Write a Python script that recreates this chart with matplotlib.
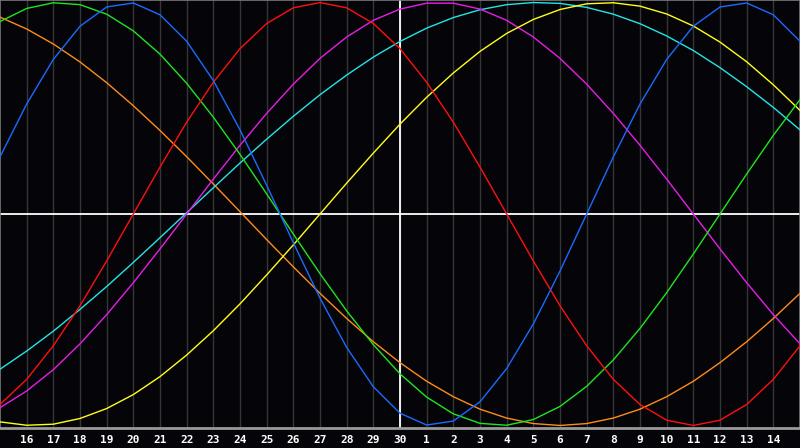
import numpy as np
import matplotlib
matplotlib.use("Agg")
from matplotlib import pyplot as plt

# Day labels along the bottom (tick at every day, 15 at both edges unlabelled)
day_labels = [16, 17, 18, 19, 20, 21, 22, 23, 24, 25, 26, 27, 28, 29, 30,
              1, 2, 3, 4, 5, 6, 7, 8, 9, 10, 11, 12, 13, 14]

# Curve values, one per day from the left edge (day 15) to the right edge
blue = [0.270, 0.520, 0.731, 0.888, 0.979, 0.998, 0.942, 0.817, 0.631, 0.398, 0.136,
        -0.136, -0.398, -0.631, -0.817, -0.942, -0.998, -0.979, -0.888, -0.731, -0.520,
        -0.270, 0.000, 0.270, 0.520, 0.731, 0.888, 0.979, 0.998, 0.942, 0.817]
red = [-0.901, -0.782, -0.623, -0.434, -0.222, 0.000, 0.222, 0.434, 0.623, 0.782, 0.901,
       0.975, 1.000, 0.975, 0.901, 0.782, 0.623, 0.434, 0.222, 0.000, -0.222,
       -0.434, -0.623, -0.782, -0.901, -0.975, -1.000, -0.975, -0.901, -0.782, -0.623]
green = [0.910, 0.972, 0.999, 0.990, 0.945, 0.866, 0.756, 0.618, 0.458, 0.282, 0.095,
         -0.095, -0.282, -0.458, -0.618, -0.756, -0.866, -0.945, -0.990, -0.999, -0.972,
         -0.910, -0.815, -0.690, -0.541, -0.372, -0.189, 0.000, 0.189, 0.372, 0.541]
orange = [0.931, 0.875, 0.804, 0.719, 0.621, 0.512, 0.395, 0.271, 0.142, 0.011, -0.121,
          -0.250, -0.375, -0.494, -0.604, -0.703, -0.791, -0.864, -0.923, -0.965, -0.991,
          -1.000, -0.991, -0.965, -0.923, -0.864, -0.791, -0.703, -0.604, -0.494, -0.375]
magenta = [-0.916, -0.837, -0.736, -0.614, -0.476, -0.325, -0.165, 0.000, 0.165, 0.325, 0.476,
           0.614, 0.736, 0.837, 0.916, 0.969, 0.997, 0.997, 0.969, 0.916, 0.837,
           0.736, 0.614, 0.476, 0.325, 0.165, 0.000, -0.165, -0.325, -0.476, -0.614]
cyan = [-0.734, -0.648, -0.554, -0.451, -0.343, -0.229, -0.112, 0.006, 0.124, 0.241, 0.354,
        0.462, 0.564, 0.657, 0.742, 0.816, 0.879, 0.929, 0.966, 0.990, 1.000,
        0.996, 0.977, 0.945, 0.900, 0.842, 0.773, 0.692, 0.602, 0.504, 0.398]
yellow = [-0.983, -0.999, -0.994, -0.967, -0.920, -0.854, -0.769, -0.667, -0.552, -0.425, -0.288,
          -0.146, 0.000, 0.146, 0.288, 0.425, 0.552, 0.667, 0.769, 0.854, 0.920,
          0.967, 0.994, 0.999, 0.983, 0.946, 0.889, 0.813, 0.720, 0.611, 0.490]

series = [
    (orange, "#ff8c1a"),
    (cyan, "#22e6e6"),
    (magenta, "#e61ee6"),
    (yellow, "#ffff1a"),
    (green, "#1ee61e"),
    (red, "#ff1010"),
    (blue, "#1a6bff"),
]

bg = "#050409"
days = np.arange(len(blue))

fig = plt.figure(figsize=(8, 4.48), dpi=100, facecolor=bg)
ax = fig.add_axes([0, 20 / 448, 1, 428 / 448], facecolor=bg)

# day grid
for i in range(1, 30):
    ax.axvline(i, color="#363636", lw=1, zorder=1)

# centre cross
ax.axvline(15, color="white", lw=1.3, zorder=2)
ax.axhline(0, color="white", lw=1.3, zorder=2)

for vals, col in series:
    ax.plot(days, vals, color=col, lw=1, zorder=3)

ax.set_xlim(0, 30)
ax.set_ylim(-1.012, 1.012)
ax.set_yticks([])
ax.set_xticks(np.arange(1, 30))
ax.set_xticklabels([str(d) for d in day_labels], color="white",
                   fontsize=8, fontweight="bold", family="DejaVu Sans Mono")
ax.tick_params(axis="x", length=0, pad=5)

for s in ["left", "top", "right"]:
    ax.spines[s].set_color("#7a7a7a")
    ax.spines[s].set_linewidth(1.2)
ax.spines["bottom"].set_color("#9a9a9a")
ax.spines["bottom"].set_linewidth(2)

fig.savefig("out.png", dpi=100, facecolor=bg)
